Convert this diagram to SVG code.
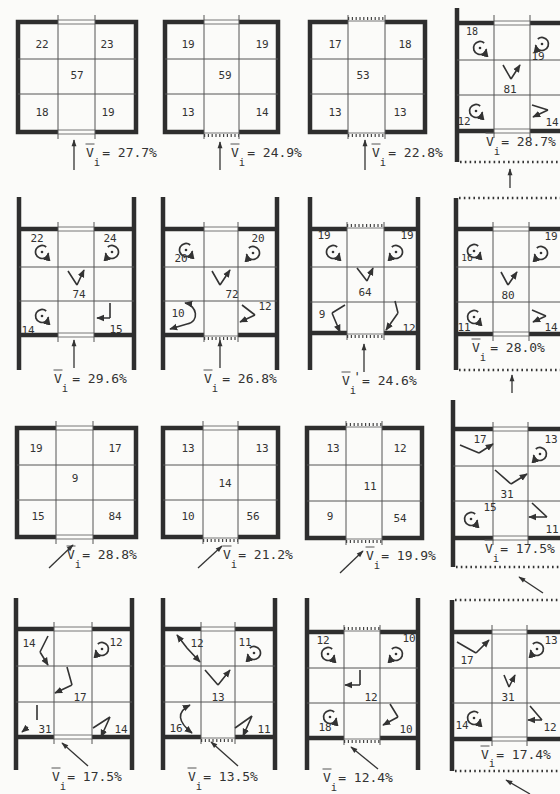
<svg xmlns="http://www.w3.org/2000/svg" width="560" height="794" viewBox="0 0 560 794">
<style>
.w{fill:none;stroke:#2e2e2e;stroke-width:4.5}
.g{fill:none;stroke:#555;stroke-width:1}
.o{fill:none;stroke:#555;stroke-width:0.8}
.t{fill:none;stroke:#444;stroke-width:3;stroke-dasharray:1.2 2.6}
.d{fill:none;stroke:#333;stroke-width:2.5;stroke-dasharray:1.6 3.2}
.f{fill:none;stroke:#333;stroke-width:1.6;marker-end:url(#ah)}
.fb{fill:none;stroke:#333;stroke-width:1.6;marker-end:url(#ah);marker-start:url(#ah)}
.in{fill:none;stroke:#333;stroke-width:1.3;marker-end:url(#ai)}
.n{font-family:"DejaVu Sans Mono","Liberation Mono",monospace;font-size:11px;fill:#333;text-anchor:middle}
.l{font-family:"DejaVu Sans Mono","Liberation Mono",monospace;font-size:13px;fill:#333}
.s{font-size:10.5px}
</style>
<defs>
<marker id="ah" viewBox="0 0 10 10" refX="9" refY="5" markerWidth="5" markerHeight="5" orient="auto-start-reverse"><path d="M0,0.8 L10,5 L0,9.2 z" fill="#333"/></marker>
<marker id="ai" viewBox="0 0 10 10" refX="9" refY="5" markerWidth="9" markerHeight="7" markerUnits="userSpaceOnUse" orient="auto"><path d="M0,1.5 L10,5 L0,8.5 z" fill="#333"/></marker>
<g id="rA"><path d="M4.2,-5 A6.5,6.5 0 1 0 6.4,1.2" fill="none" stroke="#333" stroke-width="1.7" marker-end="url(#ah)"/><circle r="1.3" fill="#333"/></g>
<g id="rB"><use href="#rA" transform="scale(-1,1)"/></g>
</defs>
<rect width="560" height="794" fill="#fbfbf9"/>

<!-- Row 1 -->
<g id="p1-1">
<path class="w" d="M58,22 H18 V132 H58 M95,132 H136 V22 H95"/>
<path class="g" d="M58,15 V139 M95,15 V139 M18,59 H136 M18,94 H136"/>
<path class="o" d="M58,20 H95 M58,24 H95 M58,130 H95 M58,134 H95"/>
<text class="n" x="42" y="48">22</text><text class="n" x="107" y="48">23</text>
<text class="n" x="77" y="79">57</text>
<text class="n" x="42" y="116">18</text><text class="n" x="108" y="116">19</text>
<path class="g" d="M85.5,144 H94.5"/><text class="l" x="86" y="157">V<tspan class="s" dy="9">i</tspan><tspan dx="2" dy="-9">= 27.7%</tspan></text>
</g>
<g id="p1-2">
<path class="w" d="M204,22 H165 V132 H204 M239,132 H278 V22 H239"/>
<path class="g" d="M204,15 V139 M239,15 V139 M165,59 H278 M165,94 H278"/>
<path class="o" d="M204,20 H239 M204,24 H239 M204,133 H239"/>
<path class="t" d="M204,135.5 H239"/>
<text class="n" x="188" y="48">19</text><text class="n" x="262" y="48">19</text>
<text class="n" x="225" y="79">59</text>
<text class="n" x="188" y="116">13</text><text class="n" x="262" y="116">14</text>
<path class="g" d="M230.5,144 H239.5"/><text class="l" x="231" y="157">V<tspan class="s" dy="9">i</tspan><tspan dx="2" dy="-9">= 24.9%</tspan></text>
</g>
<g id="p1-3">
<path class="w" d="M348,22 H310 V132 H348 M385,132 H425 V22 H385"/>
<path class="g" d="M348,15 V139 M385,15 V139 M310,59 H425 M310,94 H425"/>
<path class="o" d="M348,21 H385 M348,133 H385"/>
<path class="t" d="M348,18.5 H385 M348,135.5 H385"/>
<text class="n" x="335" y="48">17</text><text class="n" x="405" y="48">18</text>
<text class="n" x="363" y="79">53</text>
<text class="n" x="335" y="116">13</text><text class="n" x="400" y="116">13</text>
<path class="g" d="M371.5,144 H380.5"/><text class="l" x="372" y="157">V<tspan class="s" dy="9">i</tspan><tspan dx="2" dy="-9">= 22.8%</tspan></text>
</g>
<g id="p1-4">
<path class="w" d="M457,8 V162 M457,23 H494 M530,23 H565 M457,131 H494 M530,131 H565"/>
<path class="g" d="M494,15 V138 M530,15 V138 M457,60 H565 M457,95 H565"/>
<path class="o" d="M494,21 H530 M494,25 H530 M494,129 H530 M494,133 H530"/>
<path class="d" d="M460,162 H560"/>
<text class="n" x="472" y="35" style="font-size:10px">18</text>
<use href="#rA" x="480" y="48"/>
<use href="#rB" x="542" y="44"/>
<text class="n" x="538" y="60">19</text>
<path class="f" d="M511,79 L503,65 M511,79 L520,65"/>
<text class="n" x="510" y="93">81</text>
<use href="#rA" x="476" y="111"/>
<text class="n" x="464" y="125">12</text>
<path class="f" d="M548,110 L532,105 M548,110 L533,117"/>
<text class="n" x="552" y="126">14</text>
<path class="g" d="M485.5,133 H494.5"/><text class="l" x="486" y="146">V<tspan class="s" dy="9">i</tspan><tspan dx="1" dy="-9">= 28.7%</tspan></text>
</g>

<!-- Row 2 -->
<g id="p2-1">
<path class="w" d="M19,197 V370 M134,197 V370 M19,229 H58 M94,229 H134 M19,335 H58 M94,335 H134"/>
<path class="g" d="M58,222 V342 M94,222 V342 M19,267 H134 M19,301 H134"/>
<path class="o" d="M58,227 H94 M58,231 H94 M58,333 H94 M58,337 H94"/>
<text class="n" x="37" y="242">22</text><use href="#rA" x="42" y="252"/>
<text class="n" x="110" y="242">24</text><use href="#rB" x="112" y="252"/>
<path class="f" d="M77,285 L68,271 M77,285 L84,270"/>
<text class="n" x="79" y="298">74</text>
<use href="#rA" x="42" y="316"/>
<text class="n" x="28" y="334">14</text>
<path class="f" d="M110,318 L110,303 M110,318 L97,318"/>
<text class="n" x="116" y="333">15</text>
<path class="g" d="M53.5,370 H62.5"/><text class="l" x="54" y="383">V<tspan class="s" dy="9">i</tspan><tspan dx="4" dy="-9">= 29.6%</tspan></text>
</g>
<g id="p2-2">
<path class="w" d="M163,197 V370 M277,197 V370 M163,229 H204 M238,229 H277 M163,335 H204 M238,335 H277"/>
<path class="g" d="M204,222 V342 M238,222 V342 M163,267 H277 M163,301 H277"/>
<path class="o" d="M204,227 H238 M204,231 H238 M204,336 H238"/>
<path class="t" d="M204,338.5 H238"/>
<use href="#rA" x="186" y="250"/><text class="n" x="181" y="262">20</text>
<text class="n" x="258" y="242">20</text><use href="#rB" x="253" y="253"/>
<path class="f" d="M220,285 L212,271 M220,285 L230,270"/>
<text class="n" x="232" y="298">72</text>
<text class="n" x="178" y="317">10</text>
<path class="fb" d="M185,303 C197,305 200,322 187,324 L170,329"/>
<path class="f" d="M255,315 L242,305 M255,315 L240,322"/>
<text class="n" x="265" y="310">12</text>
<path class="g" d="M203.5,370 H212.5"/><text class="l" x="204" y="383">V<tspan class="s" dy="9">i</tspan><tspan dx="4" dy="-9">= 26.8%</tspan></text>
</g>
<g id="p2-3">
<path class="w" d="M310,197 V370 M418,197 V370 M310,229 H347 M384,229 H418 M310,333 H347 M384,333 H418"/>
<path class="g" d="M347,222 V340 M384,222 V340 M310,267 H418 M310,302 H418"/>
<path class="o" d="M347,228 H384 M347,334 H384"/>
<path class="t" d="M347,225.5 H384 M347,336.5 H384"/>
<text class="n" x="324" y="239">19</text><use href="#rA" x="333" y="252"/>
<text class="n" x="407" y="239">19</text><use href="#rB" x="396" y="252"/>
<path class="f" d="M367,281 L357,268 M367,281 L373,268"/>
<text class="n" x="365" y="296">64</text>
<text class="n" x="322" y="318">9</text>
<path class="f" d="M332,313 L345,305 M332,313 L340,332"/>
<path class="f" d="M398,313 L395,301 M398,313 L386,330"/>
<text class="n" x="409" y="332">12</text>
<path class="g" d="M341.5,372 H350.5"/><text class="l" x="342" y="385">V<tspan class="s" dy="9">i</tspan><tspan dx="-3" dy="-13">'</tspan><tspan dx="1" dy="4">= 24.6%</tspan></text>
</g>
<g id="p2-4">
<path class="w" d="M456,198 V370 M456,229 H493 M529,229 H565 M456,334 H493 M529,334 H565"/>
<path class="g" d="M493,222 V341 M529,222 V341 M456,267 H565 M456,302 H565"/>
<path class="o" d="M493,227 H529 M493,231 H529 M493,332 H529 M493,336 H529"/>
<path class="d" d="M459,198 H560 M459,370 H560"/>
<use href="#rA" x="474" y="251"/><text class="n" x="467" y="261" style="font-size:9.5px">16</text>
<text class="n" x="551" y="240">19</text><use href="#rB" x="541" y="253"/>
<path class="f" d="M508,285 L501,272 M508,285 L517,272"/>
<text class="n" x="508" y="299">80</text>
<use href="#rA" x="474" y="317"/><text class="n" x="464" y="331">11</text>
<path class="f" d="M546,316 L532,310 M546,316 L533,322"/>
<text class="n" x="551" y="331">14</text>
<path class="g" d="M471.5,339 H480.5"/><text class="l" x="472" y="352">V<tspan class="s" dy="9">i</tspan><tspan dx="4" dy="-9">= 28.0%</tspan></text>
</g>

<!-- Row 3 -->
<g id="p3-1">
<path class="w" d="M56,428 H17 V537 H56 M93,537 H136 V428 H93"/>
<path class="g" d="M56,421 V544 M93,421 V544 M17,465 H136 M17,500 H136"/>
<path class="o" d="M56,426 H93 M56,430 H93 M56,535 H93 M56,539 H93"/>
<text class="n" x="36" y="452">19</text><text class="n" x="115" y="452">17</text>
<text class="n" x="75" y="482">9</text>
<text class="n" x="38" y="520">15</text><text class="n" x="115" y="520">84</text>
<path class="g" d="M66.5,546 H75.5"/><text class="l" x="67" y="559">V<tspan class="s" dy="9">i</tspan><tspan dx="1" dy="-9">= 28.8%</tspan></text>
</g>
<g id="p3-2">
<path class="w" d="M203,428 H163 V537 H203 M238,537 H278 V428 H238"/>
<path class="g" d="M203,421 V544 M238,421 V544 M163,465 H278 M163,500 H278"/>
<path class="o" d="M203,426 H238 M203,430 H238 M203,538 H238"/>
<path class="t" d="M203,540.5 H238"/>
<text class="n" x="188" y="452">13</text><text class="n" x="262" y="452">13</text>
<text class="n" x="225" y="487">14</text>
<text class="n" x="188" y="520">10</text><text class="n" x="253" y="520">56</text>
<path class="g" d="M222.5,546 H231.5"/><text class="l" x="223" y="559">V<tspan class="s" dy="9">i</tspan><tspan dx="1" dy="-9">= 21.2%</tspan></text>
</g>
<g id="p3-3">
<path class="w" d="M346,428 H307 V538 H346 M382,538 H422 V428 H382"/>
<path class="g" d="M346,421 V545 M382,421 V545 M307,465 H422 M307,501 H422"/>
<path class="o" d="M346,427 H382 M346,539 H382"/>
<path class="t" d="M346,424.5 H382 M346,541.5 H382"/>
<text class="n" x="333" y="452">13</text><text class="n" x="400" y="452">12</text>
<text class="n" x="370" y="490">11</text>
<text class="n" x="330" y="520">9</text><text class="n" x="400" y="522">54</text>
<path class="g" d="M365.5,547 H374.5"/><text class="l" x="366" y="560">V<tspan class="s" dy="9">i</tspan><tspan dx="1" dy="-9">= 19.9%</tspan></text>
</g>
<g id="p3-4">
<path class="w" d="M453,400 V567 M453,429 H493 M528,429 H565 M453,538 H493 M528,538 H565"/>
<path class="g" d="M493,422 V545 M528,422 V545 M453,466 H565 M453,501 H565"/>
<path class="o" d="M493,427 H528 M493,431 H528 M493,536 H528 M493,540 H528"/>
<path class="d" d="M456,567 H560"/>
<text class="n" x="480" y="443">17</text>
<path class="f" d="M479,453 L460,445 M479,453 L493,444"/>
<use href="#rB" x="540" y="454"/><text class="n" x="551" y="443">13</text>
<path class="f" d="M511,484 L495,470 M511,484 L527,474"/>
<text class="n" x="507" y="498">31</text>
<use href="#rA" x="471" y="519"/><text class="n" x="490" y="511">15</text>
<path class="f" d="M547,517 L532,503 M547,517 L529,517"/>
<text class="n" x="552" y="533">11</text>
<path class="g" d="M484.5,540 H493.5"/><text class="l" x="485" y="553">V<tspan class="s" dy="9">i</tspan><tspan dx="1" dy="-9">= 17.5%</tspan></text>
</g>

<!-- Row 4 -->
<g id="p4-1">
<path class="w" d="M16,598 V770 M132,598 V770 M16,629 H54 M92,629 H132 M16,737 H54 M92,737 H132"/>
<path class="g" d="M54,622 V744 M92,622 V744 M16,666 H132 M16,702 H132"/>
<path class="o" d="M54,627 H92 M54,631 H92 M54,735 H92 M54,739 H92"/>
<text class="n" x="29" y="647">14</text>
<path class="f" d="M40,652 L48,636 M40,652 L48,665"/>
<use href="#rB" x="102" y="649"/><text class="n" x="116" y="646">12</text>
<path class="f" d="M72,685 L67,667 M72,685 L55,693"/>
<text class="n" x="80" y="701">17</text>
<path class="f" d="M37,720 L37,705 M28,727 L22,732"/>
<text class="n" x="45" y="733">31</text>
<path class="f" d="M110,717 L93,728 M110,717 L101,737"/>
<text class="n" x="121" y="733">14</text>
<path class="g" d="M51.5,768 H60.5"/><text class="l" x="52" y="781">V<tspan class="s" dy="9">i</tspan><tspan dx="1" dy="-9">= 17.5%</tspan></text>
</g>
<g id="p4-2">
<path class="w" d="M163,598 V770 M275,598 V770 M163,629 H201 M235,629 H275 M163,737 H201 M235,737 H275"/>
<path class="g" d="M201,622 V744 M235,622 V744 M163,666 H275 M163,702 H275"/>
<path class="o" d="M201,627 H235 M201,631 H235 M201,738 H235"/>
<path class="t" d="M201,740.5 H235"/>
<path class="fb" d="M177,635 L187,648 L200,662"/>
<text class="n" x="197" y="647">12</text>
<text class="n" x="245" y="646">11</text><use href="#rB" x="254" y="653"/>
<path class="f" d="M218,685 L205,670 M218,685 L230,670"/>
<text class="n" x="218" y="701">13</text>
<path class="fb" d="M190,705 C176,712 178,722 192,733"/>
<text class="n" x="176" y="732">16</text>
<path class="f" d="M252,716 L235,728 M252,716 L243,736"/>
<text class="n" x="264" y="733">11</text>
<path class="g" d="M187.5,768 H196.5"/><text class="l" x="188" y="781">V<tspan class="s" dy="9">i</tspan><tspan dx="1" dy="-9">= 13.5%</tspan></text>
</g>
<g id="p4-3">
<path class="w" d="M307,598 V770 M418,598 V770 M307,632 H344 M380,632 H418 M307,738 H344 M380,738 H418"/>
<path class="g" d="M344,625 V745 M380,625 V745 M307,668 H418 M307,703 H418"/>
<path class="o" d="M344,631 H380 M344,739 H380"/>
<path class="t" d="M344,628.5 H380 M344,741.5 H380"/>
<text class="n" x="323" y="644">12</text><use href="#rA" x="328" y="654"/>
<text class="n" x="409" y="642">10</text><use href="#rB" x="396" y="654"/>
<path class="f" d="M360,685 L360,670 M360,685 L345,685"/>
<text class="n" x="371" y="701">12</text>
<use href="#rA" x="330" y="717"/><text class="n" x="325" y="731">18</text>
<path class="f" d="M398,717 L390,704 M398,717 L383,725"/>
<text class="n" x="406" y="733">10</text>
<path class="g" d="M322.5,769 H331.5"/><text class="l" x="323" y="782">V<tspan class="s" dy="9">i</tspan><tspan dx="1" dy="-9">= 12.4%</tspan></text>
</g>
<g id="p4-4">
<path class="w" d="M452,600 V771 M452,632 H492 M527,632 H565 M452,739 H492 M527,739 H565"/>
<path class="g" d="M492,625 V746 M527,625 V746 M452,668 H565 M452,703 H565"/>
<path class="o" d="M492,630 H527 M492,634 H527 M492,737 H527 M492,741 H527"/>
<path class="d" d="M455,600 H560 M455,771 H560"/>
<path class="f" d="M476,653 L457,642 M476,653 L489,640"/>
<text class="n" x="467" y="664">17</text>
<use href="#rB" x="537" y="649"/><text class="n" x="551" y="644">13</text>
<path class="f" d="M509,687 L504,675 M509,687 L515,675"/>
<text class="n" x="508" y="701">31</text>
<use href="#rA" x="474" y="718"/><text class="n" x="462" y="729">14</text>
<path class="f" d="M542,720 L530,706 M542,720 L528,720"/>
<text class="n" x="550" y="731">12</text>
<path class="g" d="M480.5,746 H489.5"/><text class="l" x="481" y="759">V<tspan class="s" dy="8">i</tspan><tspan dx="1" dy="-8">= 17.4%</tspan></text>
</g>

<g id="connectors">
<path class="in" d="M74,170 V140"/>
<path class="in" d="M220,170 V142"/>
<path class="in" d="M365,170 V140"/>
<path class="in" d="M510,188 V169"/>
<path class="in" d="M74,368 V340"/>
<path class="in" d="M220,368 V340"/>
<path class="in" d="M364,372 V344"/>
<path class="in" d="M512,393 V375"/>
<path class="in" d="M49,568 L73,545"/>
<path class="in" d="M198,568 L222,546"/>
<path class="in" d="M340,573 L363,551"/>
<path class="in" d="M543,593 L519,577"/>
<path class="in" d="M88,766 L62,743"/>
<path class="in" d="M238,766 L211,742"/>
<path class="in" d="M378,769 L351,747"/>
<path class="in" d="M530,794 L506,780"/>
</g>
</svg>
